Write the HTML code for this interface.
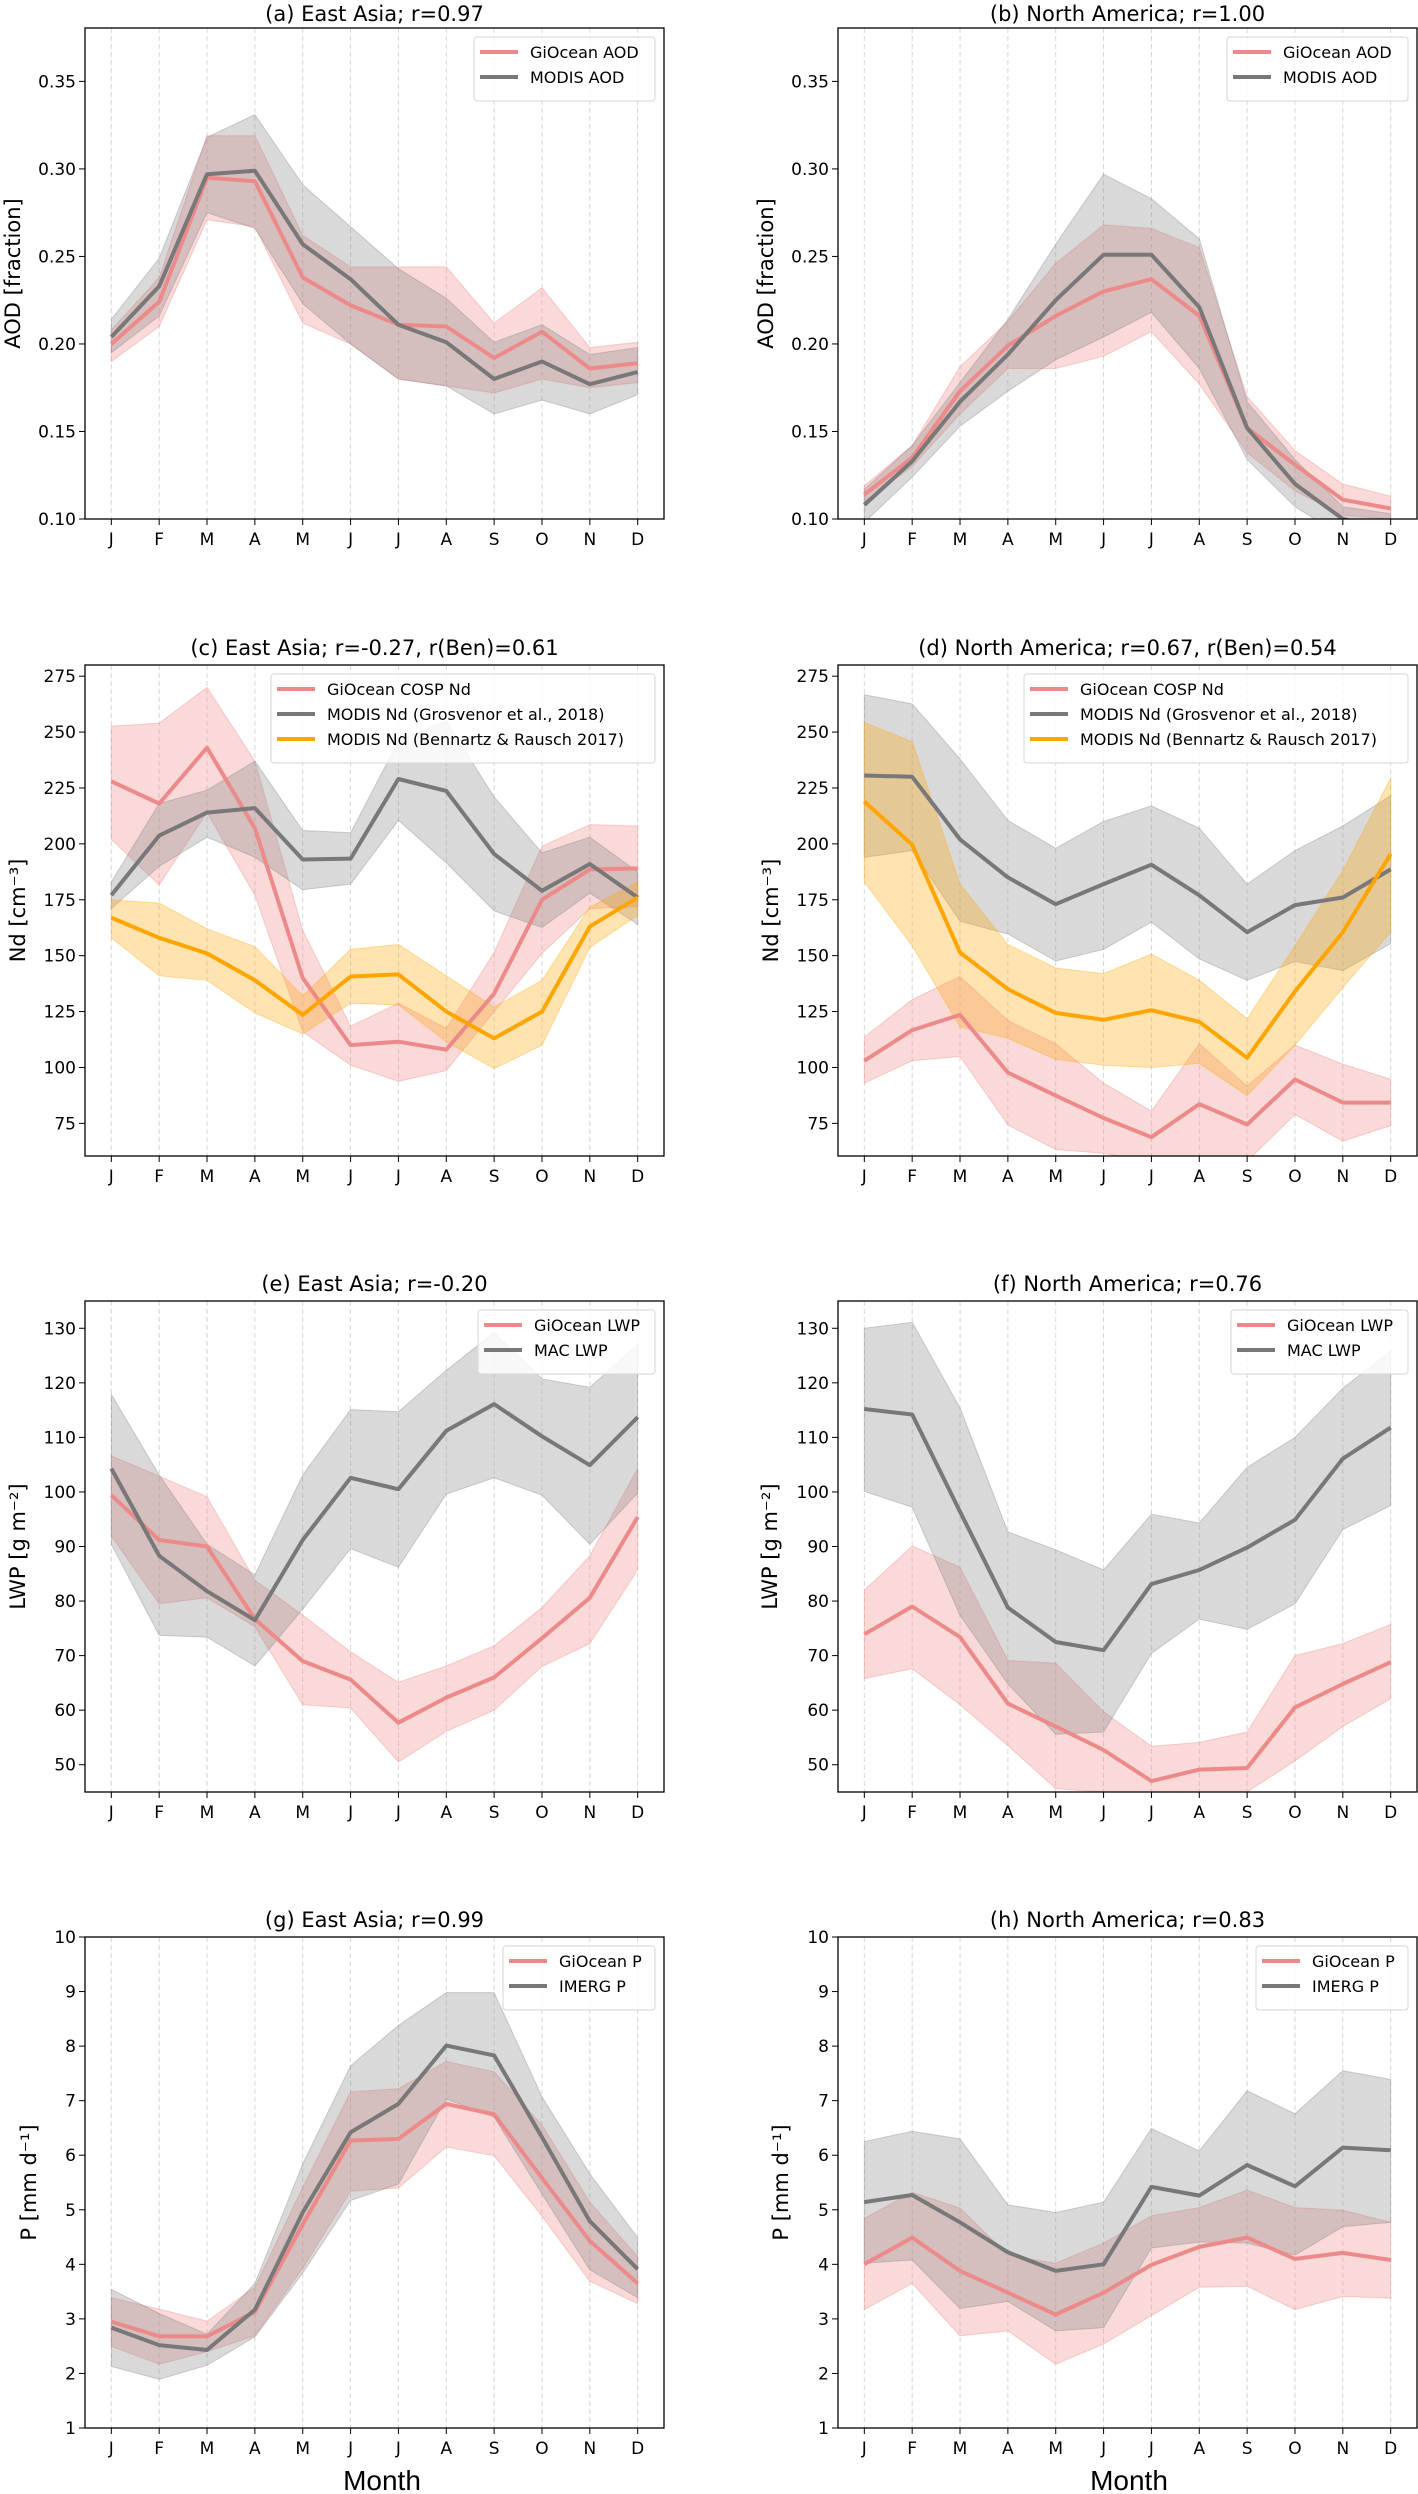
<!DOCTYPE html>
<html><head><meta charset="utf-8">
<style>
html,body{margin:0;padding:0;background:#fff;}
svg{display:block;font-family:"DejaVu Sans","Liberation Sans",sans-serif;}
</style></head>
<body>
<svg id="fig" width="1418" height="2494" viewBox="0 0 1418 2494" xmlns="http://www.w3.org/2000/svg"></svg>
<script>
const months = ["J","F","M","A","M","J","J","A","S","O","N","D"];

// (a) East Asia AOD
const aGio   = [0.200,0.224,0.295,0.293,0.238,0.222,0.211,0.210,0.192,0.207,0.186,0.189];
const aGioHi = [0.208,0.238,0.319,0.319,0.262,0.244,0.244,0.244,0.212,0.232,0.198,0.201];
const aGioLo = [0.190,0.210,0.271,0.267,0.212,0.200,0.180,0.176,0.172,0.180,0.175,0.178];
const aMod   = [0.204,0.233,0.297,0.299,0.257,0.237,0.211,0.201,0.180,0.190,0.177,0.184];
const aModHi = [0.214,0.249,0.318,0.331,0.291,0.267,0.243,0.226,0.201,0.211,0.194,0.198];
const aModLo = [0.195,0.216,0.275,0.266,0.223,0.200,0.180,0.176,0.160,0.168,0.160,0.171];
// (b) North America AOD
const bGio   = [0.114,0.135,0.173,0.199,0.216,0.230,0.237,0.216,0.152,0.131,0.111,0.106];
const bGioHi = [0.119,0.142,0.187,0.213,0.246,0.268,0.266,0.255,0.170,0.139,0.120,0.113];
const bGioLo = [0.110,0.130,0.160,0.186,0.186,0.193,0.207,0.177,0.138,0.116,0.102,0.100];
const bMod   = [0.108,0.133,0.167,0.194,0.225,0.251,0.251,0.221,0.152,0.120,0.100,0.094];
const bModHi = [0.117,0.142,0.178,0.214,0.257,0.297,0.283,0.260,0.167,0.134,0.107,0.103];
const bModLo = [0.098,0.124,0.153,0.173,0.191,0.204,0.218,0.186,0.134,0.107,0.090,0.085];
// (c) East Asia Nd
const cGio   = [228,218,243,207,140,110,111.5,108,133,175,188.6,189];
const cGioHi = [252.6,254,270,237,161.4,118.5,128.7,117.5,151.4,199,208.6,208];
const cGioLo = [202,181.7,214,177,116,101,93.8,98.6,125,151,171,172];
const cGro   = [177,203.7,214,216,193,193.4,229,223.7,195.5,179,191,176];
const cGroHi = [183,218,224,237,206,205,246,255,221,196,203,187.5];
const cGroLo = [171,190,203,194,179.5,182,210.5,191.5,170,162.6,178,164];
const cBen   = [167,158,151,139,123.5,140.7,141.6,125,113,125,163,176];
const cBenHi = [175,173.5,162,154,132,152.8,155,141,127,139,171.7,183];
const cBenLo = [158,141,139,124.4,115,128.7,128,111.5,99.5,110,153.7,168];
// (d) North America Nd
const dGio   = [103,116.7,123.5,97.7,87.4,77.4,68.8,83.6,74.5,94.6,84.3,84.3];
const dGioHi = [113.6,130.4,140.7,121,110.6,93,80.5,110.6,91.7,110,101.5,94.7];
const dGioLo = [93,103,104.9,74.3,63.3,61.6,58,60,58,79,67,74];
const dGro   = [230.6,230,202,185,173,182,190.7,177,160.5,172.6,176,188.6];
const dGroHi = [266.7,262.6,238,210.5,198,210,217,207,182,197,208,221.6];
const dGroLo = [194,197,165.4,159.7,147.6,152.8,165,148.5,139,147.4,143.3,155.4];
const dBen   = [219,199.6,151.4,135,124.4,121.3,125.6,120.4,104.3,134,160.5,195.5];
const dBenHi = [254.3,245.7,182,155,144.5,142,150.7,139,121.8,154.4,188,229.4];
const dBenLo = [183,154.4,118.2,113,103.6,101,100,101.8,87.4,110,135.7,160.5];
// (e) East Asia LWP
const eGio   = [99.4,91.2,90,76.7,69,65.6,57.7,62.3,66,73.2,80.6,95.4];
const eGioHi = [106.6,102.9,99.1,83.8,77.4,70.7,65.1,68.1,71.8,78.8,88.3,104.3];
const eGioLo = [91.9,79.5,80.6,75.3,61,60.4,50.5,56.1,60,68,72.2,85.7];
const eMac   = [104.3,88.3,81.8,76.5,91.2,102.6,100.5,111.2,116.1,110.2,104.9,113.7];
const eMacHi = [117.9,103.1,90.4,84.8,103.1,115.1,114.7,122.3,129.2,120.7,119.2,127];
const eMacLo = [90.4,73.7,73.4,68.1,78.5,89.6,86.2,99.6,102.6,99.4,90.4,99.8];
// (f) North America LWP
const fGio   = [73.9,79,73.4,61.2,57,52.7,47,49.1,49.4,60.5,64.8,68.8];
const fGioHi = [82,90.1,86.2,69.1,68.6,59.7,53.4,54.1,56,70,72.2,75.7];
const fGioLo = [65.8,67.6,61,53.5,45.6,45,42,42,45,50.7,57,62.1];
const fMac   = [115.2,114.2,96.4,78.8,72.5,71,83.1,85.7,89.8,94.9,106.1,111.8];
const fMacHi = [130,131.1,115.4,92.7,89.4,85.7,95.9,94.3,104.5,110,119,125.8];
const fMacLo = [100.1,97.2,77.4,64.8,55.6,56,70.4,76.7,74.8,79.5,93.1,97.5];
// (g) East Asia P
const gGio   = [2.95,2.68,2.68,3.13,4.73,6.27,6.30,6.94,6.75,5.58,4.43,3.65];
const gGioHi = [3.39,3.18,2.96,3.58,5.41,7.16,7.22,7.72,7.53,6.55,5.14,4.14];
const gGioLo = [2.50,2.17,2.40,2.69,3.93,5.34,5.40,6.15,5.99,4.88,3.69,3.28];
const gIme   = [2.84,2.52,2.43,3.17,4.95,6.42,6.94,8.01,7.83,6.33,4.79,3.91];
const gImeHi = [3.54,3.10,2.72,3.65,5.84,7.64,8.38,8.98,8.98,7.07,5.66,4.49];
const gImeLo = [2.13,1.89,2.15,2.67,3.84,5.17,5.47,7.03,6.70,5.29,3.90,3.39];
// (h) North America P
const hGio   = [4.00,4.49,3.88,3.48,3.08,3.48,3.99,4.32,4.49,4.10,4.21,4.08];
const hGioHi = [4.84,5.32,5.03,4.17,4.02,4.39,4.89,5.04,5.36,5.04,4.99,4.77];
const hGioLo = [3.17,3.65,2.69,2.78,2.17,2.54,3.06,3.58,3.60,3.17,3.41,3.38];
const hIme   = [5.14,5.27,4.77,4.22,3.88,4.00,5.42,5.26,5.82,5.43,6.14,6.09];
const hImeHi = [6.25,6.44,6.30,5.09,4.95,5.14,6.49,6.08,7.18,6.76,7.55,7.39];
const hImeLo = [4.02,4.08,3.19,3.32,2.78,2.84,4.30,4.41,4.39,4.17,4.69,4.77];

const ticksAOD = [0.10,0.15,0.20,0.25,0.30,0.35];
const ticksNd  = [75,100,125,150,175,200,225,250,275];
const ticksLWP = [50,60,70,80,90,100,110,120,130];
const ticksP   = [1,2,3,4,5,6,7,8,9,10];

const NS = "http://www.w3.org/2000/svg";
const svg = document.getElementById("fig");
function mk(tag, attrs, parent){
  const e = document.createElementNS(NS, tag);
  for (const k in attrs) e.setAttribute(k, attrs[k]);
  (parent||svg).appendChild(e);
  return e;
}
const PINK="#ec8a8a", GRAY="#787878", ORANGE="#ffa500";
const PINKF="rgb(240,128,128)", GRAYF="rgb(128,128,128)", ORANGEF="rgb(255,165,0)";
let clipId = 0;

function panel(cfg){
  const L=cfg.x, T=cfg.y, W=579, H=491, R=L+W, B=T+H;
  const xs = i => L + W*(i+0.55)/12.1;
  const ys = v => B - (v-cfg.ymin)/(cfg.ymax-cfg.ymin)*H;
  const g = mk("g",{});
  
  
  const cid = "clip"+(clipId++);
  const cp = mk("clipPath",{id:cid},g);
  mk("rect",{x:L,y:T,width:W,height:H},cp);
  months.forEach((m,i)=>{
    const gl = mk("line",{x1:xs(i),x2:xs(i),y1:T,y2:B,stroke:"#d4d4d4","stroke-width":0.9,"stroke-dasharray":"5,3"},g);
    
    
  });
  const plot = mk("g",{"clip-path":"url(#"+cid+")"},g);
  cfg.series.forEach(s=>{
    let d = s.hi.map((v,i)=>(i?"L":"M")+xs(i).toFixed(1)+","+ys(v).toFixed(1)).join("");
    for (let i=s.lo.length-1;i>=0;i--) d += "L"+xs(i).toFixed(1)+","+ys(s.lo[i]).toFixed(1);
    d += "Z";
    const p = mk("path",{d:d,fill:s.fill,"fill-opacity":0.3,stroke:s.fill,"stroke-opacity":0.35,"stroke-width":1},plot);
    
    
  });
  cfg.series.forEach(s=>{
    const d = s.mean.map((v,i)=>(i?"L":"M")+xs(i).toFixed(1)+","+ys(v).toFixed(1)).join("");
    const p = mk("path",{d:d,fill:"none",stroke:s.color,"stroke-width":4,"stroke-linejoin":"round"},plot);
    
    
  });
  const fr = mk("rect",{x:L,y:T,width:W,height:H,fill:"none",stroke:"#000","stroke-width":1.3},g);
  
  
  months.forEach((m,i)=>{
    mk("line",{x1:xs(i),x2:xs(i),y1:B,y2:B+6,stroke:"#000","stroke-width":1},g);
    const t = mk("text",{x:xs(i),y:B+26,"text-anchor":"middle","font-size":17},g);
    t.textContent = m;
    
    
  });
  cfg.ticks.forEach(v=>{
    const y = ys(v);
    mk("line",{x1:L-6,x2:L,y1:y,y2:y,stroke:"#000","stroke-width":1},g);
    const t = mk("text",{x:L-9,y:y+6,"text-anchor":"end","font-size":17},g);
    t.textContent = cfg.fmt(v);
    
    
  });
  const tt = mk("text",{x:(L+R)/2,y:cfg.titleY,"text-anchor":"middle","font-size":21},g);
  tt.textContent = cfg.title;
  
  
  const yl = mk("text",{x:cfg.ylx,y:(T+B)/2,"text-anchor":"middle","dominant-baseline":"central","font-size":21,transform:"rotate(-90 "+cfg.ylx+" "+((T+B)/2)+")"},g);
  yl.textContent = cfg.ylabel;
  
  
  const n = cfg.series.length, lw = cfg.legW, lh = 14 + n*25;
  const lx = R-9-lw, ly = T+9;
  const lg = mk("g",{},g);
  
  
  mk("rect",{x:lx,y:ly,width:lw,height:lh,rx:3,fill:"#fff","fill-opacity":0.8,stroke:"#d6d6d6","stroke-width":1},lg);
  cfg.series.forEach((s,i)=>{
    const yy = ly + 15 + i*25;
    const ln = mk("line",{x1:lx+6,x2:lx+44,y1:yy,y2:yy,stroke:s.color,"stroke-width":4},lg);
    
    
    const t = mk("text",{x:lx+56,y:yy+6,"font-size":16},lg);
    t.textContent = s.label;
    
    
  });
}
const f2 = v=>v.toFixed(2), f0 = v=>String(v);
const LX=85, RX=838;
const rows=[28,665,1301,1937];

panel({name:"panel-a",x:LX,y:rows[0],ymin:0.1,ymax:0.3805,ticks:ticksAOD,fmt:f2,title:"(a) East Asia; r=0.97",titleY:rows[0]-7,ylabel:"AOD [fraction]",ylx:13,legW:181,
 series:[{key:"giocean-aod",label:"GiOcean AOD",mean:aGio,hi:aGioHi,lo:aGioLo,color:PINK,fill:PINKF},
         {key:"modis-aod",label:"MODIS AOD",mean:aMod,hi:aModHi,lo:aModLo,color:GRAY,fill:GRAYF}]});
panel({name:"panel-b",x:RX,y:rows[0],ymin:0.1,ymax:0.3805,ticks:ticksAOD,fmt:f2,title:"(b) North America; r=1.00",titleY:rows[0]-7,ylabel:"AOD [fraction]",ylx:766,legW:181,
 series:[{key:"giocean-aod",label:"GiOcean AOD",mean:bGio,hi:bGioHi,lo:bGioLo,color:PINK,fill:PINKF},
         {key:"modis-aod",label:"MODIS AOD",mean:bMod,hi:bModHi,lo:bModLo,color:GRAY,fill:GRAYF}]});
panel({name:"panel-c",x:LX,y:rows[1],ymin:60.4,ymax:280,ticks:ticksNd,fmt:f0,title:"(c) East Asia; r=-0.27, r(Ben)=0.61",titleY:rows[1]-10,ylabel:"Nd [cm\u207B\u00B3]",ylx:18,legW:384,
 series:[{key:"giocean-nd",label:"GiOcean COSP Nd",mean:cGio,hi:cGioHi,lo:cGioLo,color:PINK,fill:PINKF},
         {key:"modis-nd-grosvenor",label:"MODIS Nd (Grosvenor et al., 2018)",mean:cGro,hi:cGroHi,lo:cGroLo,color:GRAY,fill:GRAYF},
         {key:"modis-nd-bennartz",label:"MODIS Nd (Bennartz & Rausch 2017)",mean:cBen,hi:cBenHi,lo:cBenLo,color:ORANGE,fill:ORANGEF}]});
panel({name:"panel-d",x:RX,y:rows[1],ymin:60.4,ymax:280,ticks:ticksNd,fmt:f0,title:"(d) North America; r=0.67, r(Ben)=0.54",titleY:rows[1]-10,ylabel:"Nd [cm\u207B\u00B3]",ylx:771,legW:384,
 series:[{key:"giocean-nd",label:"GiOcean COSP Nd",mean:dGio,hi:dGioHi,lo:dGioLo,color:PINK,fill:PINKF},
         {key:"modis-nd-grosvenor",label:"MODIS Nd (Grosvenor et al., 2018)",mean:dGro,hi:dGroHi,lo:dGroLo,color:GRAY,fill:GRAYF},
         {key:"modis-nd-bennartz",label:"MODIS Nd (Bennartz & Rausch 2017)",mean:dBen,hi:dBenHi,lo:dBenLo,color:ORANGE,fill:ORANGEF}]});
panel({name:"panel-e",x:LX,y:rows[2],ymin:45,ymax:135,ticks:ticksLWP,fmt:f0,title:"(e) East Asia; r=-0.20",titleY:rows[2]-10,ylabel:"LWP [g m\u207B\u00B2]",ylx:18,legW:177,
 series:[{key:"giocean-lwp",label:"GiOcean LWP",mean:eGio,hi:eGioHi,lo:eGioLo,color:PINK,fill:PINKF},
         {key:"mac-lwp",label:"MAC LWP",mean:eMac,hi:eMacHi,lo:eMacLo,color:GRAY,fill:GRAYF}]});
panel({name:"panel-f",x:RX,y:rows[2],ymin:45,ymax:135,ticks:ticksLWP,fmt:f0,title:"(f) North America; r=0.76",titleY:rows[2]-10,ylabel:"LWP [g m\u207B\u00B2]",ylx:770,legW:177,
 series:[{key:"giocean-lwp",label:"GiOcean LWP",mean:fGio,hi:fGioHi,lo:fGioLo,color:PINK,fill:PINKF},
         {key:"mac-lwp",label:"MAC LWP",mean:fMac,hi:fMacHi,lo:fMacLo,color:GRAY,fill:GRAYF}]});
panel({name:"panel-g",x:LX,y:rows[3],ymin:1,ymax:10,ticks:ticksP,fmt:f0,title:"(g) East Asia; r=0.99",titleY:rows[3]-10,ylabel:"P [mm d\u207B\u00B9]",ylx:29,legW:152,
 series:[{key:"giocean-p",label:"GiOcean P",mean:gGio,hi:gGioHi,lo:gGioLo,color:PINK,fill:PINKF},
         {key:"imerg-p",label:"IMERG P",mean:gIme,hi:gImeHi,lo:gImeLo,color:GRAY,fill:GRAYF}]});
panel({name:"panel-h",x:RX,y:rows[3],ymin:1,ymax:10,ticks:ticksP,fmt:f0,title:"(h) North America; r=0.83",titleY:rows[3]-10,ylabel:"P [mm d\u207B\u00B9]",ylx:781,legW:152,
 series:[{key:"giocean-p",label:"GiOcean P",mean:hGio,hi:hGioHi,lo:hGioLo,color:PINK,fill:PINKF},
         {key:"imerg-p",label:"IMERG P",mean:hIme,hi:hImeHi,lo:hImeLo,color:GRAY,fill:GRAYF}]});

[382,1129].forEach(x=>{
  const t = mk("text",{x:x,y:2490,"text-anchor":"middle","font-size":28,"font-family":"Liberation Sans, sans-serif"});
  t.textContent = "Month";
  
  
});
</script>
</body></html>
